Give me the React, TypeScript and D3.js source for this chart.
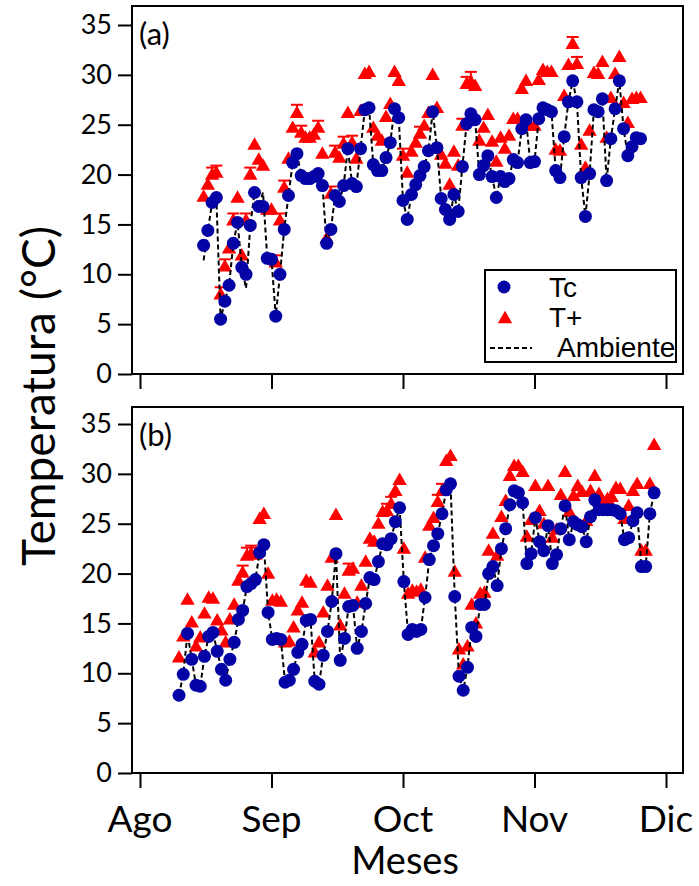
import React, { useEffect, useRef } from 'react'
import * as d3 from 'd3'

const months = ['Ago', 'Sep', 'Oct', 'Nov', 'Dic']
const yTicks = [0, 5, 10, 15, 20, 25, 30, 35]
const daysPerMonth = 31

// panel (a): daily values, first day = Aug 1 + startDayA
const startDayA = 15
const tcA = [
  12.9, 14.4, 17.2, 17.7, 5.5, 7.3, 8.9, 13.1, 15.2, 10.7,
  10.0, 14.9, 18.2, 16.8, 16.8, 11.6, 11.5, 5.8, 10.0, 14.5,
  17.9, 21.2, 22.1, 19.9, 19.6, 19.6, 19.8, 20.1, 18.9, 13.1,
  14.5, 17.9, 17.3, 18.9, 22.6, 19.1, 18.8, 22.6, 26.5, 26.7,
  21.0, 20.4, 20.4, 21.7, 23.2, 26.6, 25.7, 17.4, 15.5, 18.0,
  19.0, 19.9, 20.8, 22.4, 26.3, 22.7, 17.6, 16.5, 15.5, 18.0,
  16.3, 20.8, 25.1, 26.1, 25.5, 20.0, 20.9, 21.9, 19.8, 17.7,
  19.8, 19.3, 19.6, 21.5, 21.2, 24.6, 25.5, 21.2, 21.3, 25.6,
  26.7, 26.5, 26.3, 20.4, 19.7, 23.8, 27.3, 29.4, 27.3, 19.7,
  15.8, 20.1, 26.5, 26.3, 27.6, 19.4, 23.6, 26.6, 29.4, 24.6,
  21.9, 22.8, 23.7, 23.6,
]
const tpA = [
  17.7, 18.9, 19.9, 20.1, 7.9, 10.7, 12.5, 15.3, 17.6, 11.8,
  15.3, 19.9, 22.9, 21.4, 20.8, 16.4, 16.4, 11.1, 15.3, 18.6,
  21.5, 24.6, 26.1, 24.1, 23.6, 23.6, 23.9, 24.6, 22.0, 13.5,
  18.0, 22.1, 21.6, 23.0, 26.1, 23.1, 21.5, 26.3, 30.0, 30.2,
  24.6, 23.8, 23.3, 25.7, 27.0, 30.2, 29.3, 21.8, 20.1, 22.2,
  23.1, 24.0, 24.8, 26.1, 29.9, 26.6, 21.9, 21.0, 18.9, 22.2,
  20.8, 24.8, 29.0, 29.2, 28.8, 23.3, 24.6, 25.9, 23.2, 21.2,
  23.6, 22.5, 23.8, 25.5, 25.5, 28.5, 29.3, 24.8, 24.8, 29.4,
  30.4, 30.2, 30.2, 22.4, 22.3, 27.8, 30.9, 33.0, 31.0, 22.9,
  20.6, 24.3, 30.1, 30.0, 31.2, 23.6, 27.6, 30.0, 31.7, 27.1,
  25.1, 27.5, 27.6, 27.6,
]
const ambA = [
  11.4, 14.4, 17.2, 17.7, 5.5, 7.3, 8.9, 13.1, 15.2, 10.7,
  8.6, 14.9, 18.2, 16.8, 18.2, 11.6, 11.5, 5.8, 10.0, 14.5,
  17.9, 21.2, 22.1, 19.9, 19.6, 19.6, 19.8, 20.1, 18.9, 13.1,
  14.5, 17.9, 17.3, 18.9, 22.6, 19.1, 18.8, 22.6, 26.5, 26.7,
  21.0, 20.4, 20.4, 21.7, 23.2, 26.6, 25.7, 17.4, 15.5, 18.0,
  19.0, 19.9, 20.8, 22.4, 26.3, 22.7, 17.6, 16.5, 15.5, 18.0,
  16.3, 20.8, 25.1, 26.1, 25.5, 20.0, 20.9, 21.9, 19.8, 17.7,
  19.8, 19.3, 19.6, 21.5, 21.2, 24.6, 25.5, 21.2, 21.3, 25.6,
  26.7, 26.5, 26.3, 20.4, 19.7, 23.8, 27.3, 29.4, 27.3, 19.7,
  15.8, 20.1, 26.5, 26.3, 27.6, 19.4, 23.6, 26.6, 29.4, 24.6,
  21.9, 22.8, 23.7, 23.6,
]
const errIdxA = [2, 3, 4, 5, 7, 10, 11, 17, 18, 19, 22, 23, 27, 30, 31, 33, 35, 47, 51, 61, 62, 63, 87, 88]
const errA = [0.8, 0.8, 0.8, 0.8, 0.8, 0.8, 0.8, 0.8, 0.8, 0.8, 0.9, 0.8, 0.8, 0.8, 0.8, 0.8, 0.8, 0.8, 0.8, 0.8, 0.8, 1.1, 0.8, 0.8]

// panel (b)
const startDayB = 9.2
const tcB = [
  7.8, 9.9, 14.0, 11.4, 8.8, 8.7, 11.7, 13.7, 14.1, 12.2,
  10.4, 9.3, 11.4, 13.1, 15.4, 16.3, 18.7, 19.0, 19.4, 22.1,
  22.9, 16.1, 13.4, 13.5, 13.4, 9.1, 9.3, 10.4, 12.1, 12.9,
  15.3, 15.4, 9.2, 8.9, 11.8, 14.2, 17.2, 22.0, 11.3, 13.5,
  16.7, 16.8, 12.5, 14.2, 17.0, 19.6, 19.4, 21.2, 23.0, 22.9,
  23.5, 25.2, 26.6, 19.2, 13.9, 14.4, 14.2, 14.4, 17.6, 21.4,
  22.8, 24.0, 26.0, 28.4, 29.0, 17.7, 9.7, 8.3, 10.6, 14.6,
  13.7, 16.9, 16.9, 20.0, 20.7, 18.8, 22.5, 24.5, 26.9, 28.3,
  28.1, 27.1, 21.0, 22.0, 25.6, 23.2, 22.3, 24.8, 21.0, 21.9,
  24.5, 26.8, 23.4, 25.2, 24.9, 24.7, 23.2, 25.7, 27.4, 26.4,
  26.4, 26.4, 26.4, 26.3, 26.0, 23.4, 23.6, 25.3, 26.1, 20.7,
  20.7, 26.0, 28.1,
]
const tpB = [
  11.5, 13.6, 17.3, 15.0, 12.6, 13.5, 15.9, 17.5, 17.4, 15.2,
  14.2, 13.0, 15.3, 16.8, 19.2, 20.0, 21.7, 21.9, 21.8, 25.4,
  25.9, 19.9, 17.2, 17.3, 17.1, 13.0, 13.1, 14.5, 16.2, 17.0,
  19.2, 19.0, 12.0, 13.0, 16.0, 18.7, 21.5, 25.8, 14.7, 17.9,
  20.2, 20.4, 17.0, 18.7, 21.1, 23.4, 23.1, 24.9, 26.1, 26.2,
  26.9, 28.2, 29.3, 22.4, 17.9, 18.2, 18.1, 18.3, 21.5, 24.7,
  25.5, 27.1, 28.2, 31.2, 31.7, 20.1, 12.3, 10.8, 12.6, 16.8,
  14.9, 17.9, 18.0, 22.2, 23.9, 21.7, 25.6, 27.2, 29.7, 30.7,
  30.7, 30.1, 23.6, 25.3, 28.7, 26.2, 24.9, 28.7, 23.5, 24.3,
  27.8, 30.1, 26.1, 27.7, 28.7, 28.1, 25.2, 28.2, 29.7, 27.9,
  27.0, 27.4, 27.6, 28.5, 28.4, 25.4, 26.7, 28.2, 28.9, 22.2,
  22.2, 28.9, 32.8,
]
const ambB = [
  7.8, 9.9, 14.0, 11.4, 8.8, 8.7, 11.7, 13.7, 14.1, 12.2,
  10.4, 9.3, 11.4, 13.1, 15.4, 16.3, 18.7, 19.0, 19.4, 22.1,
  22.9, 16.1, 13.4, 13.5, 13.4, 9.1, 9.3, 10.4, 12.1, 12.9,
  15.3, 15.4, 9.2, 8.9, 11.8, 14.2, 17.2, 22.0, 11.3, 13.5,
  16.7, 16.8, 12.5, 14.2, 17.0, 19.6, 19.4, 21.2, 23.0, 22.9,
  23.5, 25.2, 26.6, 19.2, 13.9, 14.4, 14.2, 14.4, 17.6, 21.4,
  22.8, 24.0, 26.0, 28.4, 29.0, 17.7, 9.7, 8.3, 10.6, 14.6,
  13.7, 16.9, 16.9, 20.0, 20.7, 18.8, 22.5, 24.5, 26.9, 28.3,
  28.1, 27.1, 21.0, 22.0, 25.6, 23.2, 22.3, 24.8, 21.0, 21.9,
  24.5, 26.8, 23.4, 25.2, 24.9, 24.7, 23.2, 25.7, 27.4, 26.4,
  26.4, 26.4, 26.4, 26.3, 26.0, 23.4, 23.6, 25.3, 26.1, 20.7,
  20.7, 26.0, 28.1,
]
const errIdxB = [15, 16, 17, 18, 40, 49, 50, 61, 62]
const errB = [0.8, 0.9, 0.9, 0.8, 0.8, 0.8, 0.8, 0.8, 0.8]

const blue = '#0303a6'
const red = '#ff0000'
const font = 'Lato, "Open Sans", sans-serif'

export default function App() {
  const ref = useRef<SVGSVGElement>(null)

  useEffect(() => {
    const svg = d3.select(ref.current)
    svg.selectAll('*').remove()

    const left = 132
    const right = 683
    const x = d3.scaleLinear().domain([0, 4]).range([140, 666])

    const panels = [
      { label: '(a)', top: 6, bottom: 374, start: startDayA, tc: tcA, tp: tpA, amb: ambA, errIdx: errIdxA, err: errA, labelY: 45, months: false },
      { label: '(b)', top: 407, bottom: 773, start: startDayB, tc: tcB, tp: tpB, amb: ambB, errIdx: errIdxB, err: errB, labelY: 446, months: true },
    ]

    panels.forEach(p => {
      const y = d3.scaleLinear().domain([0, 35]).range([p.bottom, p.bottom - 349])
      const xd = (i: number) => x((p.start + i) / daysPerMonth)
      const g = svg.append('g')

      // y axis
      const ya = g
        .append('g')
        .attr('transform', `translate(${left},0)`)
        .call(d3.axisLeft(y).tickValues(yTicks).tickSize(14).tickPadding(6))
      ya.select('.domain').remove()
      ya.attr('font-family', font).attr('font-size', 27)
      ya.selectAll('line').attr('stroke-width', 2)

      // x axis
      const xa = g
        .append('g')
        .attr('transform', `translate(0,${p.bottom})`)
        .call(d3.axisBottom(x).tickValues([0, 1, 2, 3, 4]).tickSize(15).tickFormat(() => ''))
      xa.select('.domain').remove()
      xa.selectAll('line').attr('stroke-width', 2)

      if (p.months) {
        g.append('g')
          .selectAll('text')
          .data(months)
          .join('text')
          .attr('x', (d, i) => x(i))
          .attr('y', 832)
          .attr('text-anchor', 'middle')
          .attr('font-family', font)
          .attr('font-size', 37)
          .text(d => d)
      }

      // frame
      g.append('rect')
        .attr('x', left)
        .attr('y', p.top)
        .attr('width', right - left)
        .attr('height', p.bottom - p.top)
        .attr('fill', 'none')
        .attr('stroke', '#000')
        .attr('stroke-width', 2)

      // T+ error bars
      const eb = g.append('g').attr('stroke', red).attr('stroke-width', 2)
      p.errIdx.forEach((k, j) => {
        const cx = xd(k)
        const y1 = y(p.tp[k] + p.err[j])
        eb.append('line').attr('x1', cx).attr('x2', cx).attr('y1', y(p.tp[k])).attr('y2', y1)
        eb.append('line').attr('x1', cx - 6).attr('x2', cx + 6).attr('y1', y1).attr('y2', y1)
      })

      // T+ triangles
      g.append('g')
        .selectAll('path')
        .data(p.tp)
        .join('path')
        .attr('d', d3.symbol(d3.symbolTriangle, 90)())
        .attr('transform', (d, i) => `translate(${xd(i)},${y(d)})`)
        .attr('fill', red)

      // ambient dashed line
      g.append('path')
        .datum(p.amb)
        .attr('d', d3.line<number>().x((d, i) => xd(i)).y(d => y(d)))
        .attr('fill', 'none')
        .attr('stroke', '#000')
        .attr('stroke-width', 2)
        .attr('stroke-dasharray', '5,3')

      // Tc circles
      g.append('g')
        .selectAll('circle')
        .data(p.tc)
        .join('circle')
        .attr('cx', (d, i) => xd(i))
        .attr('cy', d => y(d))
        .attr('r', 6.5)
        .attr('fill', blue)

      g.append('text')
        .attr('x', 139)
        .attr('y', p.labelY)
        .attr('font-family', font)
        .attr('font-size', 31)
        .text(p.label)
    })

    // legend
    const lg = svg.append('g').attr('font-family', '"Liberation Sans", Arial, sans-serif').attr('font-size', 28)
    lg.append('rect')
      .attr('x', 485)
      .attr('y', 270)
      .attr('width', 191)
      .attr('height', 92)
      .attr('fill', '#fff')
      .attr('stroke', '#000')
      .attr('stroke-width', 2)
    lg.append('circle').attr('cx', 504).attr('cy', 287).attr('r', 6.5).attr('fill', blue)
    lg.append('text').attr('x', 549).attr('y', 297).text('Tc')
    lg.append('path')
      .attr('d', d3.symbol(d3.symbolTriangle, 90)())
      .attr('transform', 'translate(505,319)')
      .attr('fill', red)
    lg.append('text').attr('x', 549).attr('y', 327).text('T+')
    lg.append('line')
      .attr('x1', 490)
      .attr('x2', 532)
      .attr('y1', 348)
      .attr('y2', 348)
      .attr('stroke', '#000')
      .attr('stroke-width', 2)
      .attr('stroke-dasharray', '5,3')
    lg.append('text').attr('x', 557).attr('y', 357).text('Ambiente')

    // axis titles
    svg.append('text')
      .attr('transform', 'translate(37,396) rotate(-90)')
      .attr('text-anchor', 'middle')
      .attr('dominant-baseline', 'central')
      .attr('font-family', font)
      .attr('font-size', 46)
      .text('Temperatura (°C)')

    svg.append('text')
      .attr('x', 405)
      .attr('y', 874)
      .attr('text-anchor', 'middle')
      .attr('font-family', font)
      .attr('font-size', 38)
      .text('Meses')
  }, [])

  return <svg ref={ref} width={699} height={886} style={{ position: 'absolute', left: 0, top: 0 }} />
}
